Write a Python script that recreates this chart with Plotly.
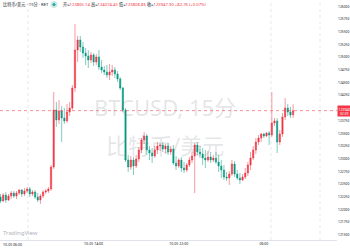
import pandas as pd
import plotly.graph_objects as go

# ---------------- data ----------------
start_time = "2025-10-05 05:15"
bar_minutes = 15

opens = [122248, 122169, 122287, 122188, 122267, 122326, 122267, 122326, 122385, 122307,
         122366, 122405, 122307, 122346, 122248, 122188, 122267, 122346, 122366, 122405,
         122838, 123961, 123764, 123941, 123803, 123744, 123921, 124000, 124394, 125142,
         125339, 125201, 125083, 125024, 124945, 125044, 124906, 125004, 124807, 124748,
         124709, 124650, 124709, 124748, 124669, 124571, 124394, 123961, 122976, 122838,
         122976, 122858, 122996, 123173, 123370, 123449, 123173, 123114, 123055, 123173,
         123252, 123271, 123193, 123252, 123134, 123193, 122917, 122858, 122976, 122819,
         122779, 122878, 122976, 123055, 123271, 123134, 123094, 123015, 122976, 123035,
         122976, 123015, 122937, 122858, 122779, 122641, 122622, 122700, 122897, 122700,
         122622, 122582, 122641, 122720, 122878, 123015, 123173, 123331, 123409, 123488,
         123449, 123508, 123468, 123705, 123744, 123331, 123488, 123823, 124000, 123921,
         123865.14]
highs = [122307, 122326, 122346, 122307, 122366, 122366, 122366, 122405, 122405, 122425,
         122444, 122444, 122385, 122385, 122326, 122307, 122385, 122405, 122444, 122878,
         124315, 124118, 124158, 124039, 124000, 124079, 124118, 124453, 125654, 125418,
         125418, 125300, 125181, 125142, 125103, 125083, 125063, 125142, 124945, 124827,
         124847, 124866, 124847, 124807, 124728, 124610, 124414, 124000, 123075, 123055,
         123035, 123075, 123232, 123409, 123527, 123488, 123252, 123212, 123252, 123331,
         123311, 123331, 123291, 123311, 123252, 123271, 123055, 123015, 123035, 122937,
         122917, 123035, 123134, 123311, 123331, 123252, 123212, 123173, 123153, 123134,
         123075, 123134, 123075, 122976, 122878, 122740, 122760, 122976, 122956, 122779,
         122720, 122700, 122819, 122937, 123134, 123252, 123409, 123468, 123508, 123508,
         123527, 123547, 124315, 123803, 123803, 123567, 123902, 124197, 124079, 124020,
         124074.45]
lows = [122129, 122149, 122129, 122169, 122208, 122228, 122208, 122287, 122248, 122267,
        122326, 122248, 122267, 122208, 122149, 122110, 122228, 122307, 122326, 122366,
        122799, 123626, 123685, 123331, 123685, 123705, 123842, 123961, 124315, 124906,
        125103, 124984, 124847, 124787, 124886, 124827, 124847, 124748, 124689, 124650,
        124591, 124551, 124630, 124591, 124512, 124354, 123921, 122937, 122740, 122779,
        122681, 122819, 122937, 123114, 123291, 123075, 122976, 122917, 123015, 123094,
        123153, 123134, 123114, 123075, 123075, 122878, 122779, 122819, 122740, 122720,
        122740, 122838, 122917, 122326, 123075, 123015, 122878, 122819, 122937, 122917,
        122937, 122897, 122740, 122622, 122582, 122563, 122484, 122661, 122641, 122582,
        122503, 122563, 122602, 122661, 122779, 122976, 123094, 123271, 123331, 123409,
        123429, 123271, 123429, 123646, 123114, 123271, 123429, 123764, 123842, 123803,
        123808.86]
closes = [122169, 122287, 122188, 122267, 122326, 122267, 122326, 122385, 122307, 122366,
          122405, 122307, 122346, 122248, 122188, 122267, 122346, 122366, 122405, 122838,
          123961, 123764, 123941, 123803, 123744, 123921, 124000, 124394, 125142, 125339,
          125201, 125083, 125024, 124945, 125044, 124906, 125004, 124807, 124748, 124709,
          124650, 124709, 124748, 124669, 124571, 124394, 123961, 122976, 122838, 122976,
          122858, 122996, 123173, 123370, 123449, 123173, 123114, 123055, 123173, 123252,
          123271, 123193, 123252, 123134, 123193, 122917, 122858, 122976, 122819, 122779,
          122878, 122976, 123055, 123271, 123134, 123094, 123015, 122976, 123035, 122976,
          123015, 122937, 122858, 122779, 122641, 122622, 122700, 122897, 122700, 122622,
          122582, 122641, 122720, 122878, 123015, 123173, 123331, 123409, 123488, 123449,
          123508, 123468, 123705, 123744, 123331, 123488, 123823, 124000, 123921, 123862,
          123947.90]

price_ticks = [121500, 121750, 122000, 122250, 122500, 122750, 123000, 123250, 123500,
               123750, 124000, 124250, 124500, 124750, 125000, 125250, 125500, 125750, 126000]
price_tick_labels = [str(v) for v in price_ticks]

time_tick_times = ["2025-10-05 14:00", "2025-10-05 22:00", "2025-10-06 06:00"]
time_tick_labels = ["10-05 14:00", "10-05 22:00", "06:00"]
first_time_label = "10-05 06:00"

title_text = "比特币/美元 · 15分 · RET"
watermark_1 = "BTCUSD, 15分"
watermark_2 = "比特币/美元"
change_text = "+82.76 (+0.07%)"

# ---------------- figure ----------------
UP = "#f23645"
DOWN = "#089981"
times = pd.date_range(start_time, periods=len(opens), freq=f"{bar_minutes}min")
step = pd.Timedelta(minutes=bar_minutes)

fig = go.Figure()
fig.add_trace(go.Candlestick(
    x=times, open=opens, high=highs, low=lows, close=closes,
    increasing=dict(fillcolor=UP, line=dict(color="rgba(242,54,69,0.5)", width=1)),
    decreasing=dict(fillcolor=DOWN, line=dict(color="rgba(8,153,129,0.5)", width=1)),
    whiskerwidth=0, showlegend=False, hoverinfo="skip",
))

W, H = 350, 250
ML, MR, MT, MB = 0, 13, 0, 10
PW = W - ML - MR
PH = H - MT - MB

x0 = times[0] - 0.19 * step
x1 = times[0] + (PW / 2.66 - 0.19) * step

last_close = closes[-1]

shapes = []
for px in [28, 271, 320]:
    shapes.append(dict(type="line", xref="paper", yref="paper", x0=px / PW, x1=px / PW,
                       y0=0, y1=1, line=dict(color="#e6e8ee", width=1, dash="dot"), layer="below"))
shapes.append(dict(type="line", xref="paper", yref="y", x0=0, x1=1, y0=last_close, y1=last_close,
                   line=dict(color="rgba(242,54,69,0.55)", width=1, dash="dot")))
# legend status icon
shapes.append(dict(type="circle", xref="paper", yref="paper",
                   x0=50.5 / PW, x1=57.5 / PW, y0=1 - 8 / PH, y1=1 - 1 / PH,
                   fillcolor="rgba(38,166,154,0.25)", line=dict(width=0)))
shapes.append(dict(type="circle", xref="paper", yref="paper",
                   x0=52.5 / PW, x1=55.5 / PW, y0=1 - 6 / PH, y1=1 - 3 / PH,
                   fillcolor="#26a69a", line=dict(width=0)))

F = "Noto Sans, Noto Sans CJK SC, sans-serif"
lab = lambda s: f'<span style="color:#131722">{s}</span>'
ohlc_text = (f'{lab("开=")}{opens[-1]:.2f} {lab("高=")}{highs[-1]:.2f} '
             f'{lab("低=")}{lows[-1]:.2f} {lab("收=")}{closes[-1]:.2f} {change_text}')

annotations = [
    dict(xref="paper", yref="paper", x=1 / PW, y=1 - 4.5 / PH, xanchor="left", yanchor="middle",
         text=title_text, showarrow=False, font=dict(family=F, size=4.2, color="#131722")),
    dict(xref="paper", yref="paper", x=61 / PW, y=1 - 4.5 / PH, xanchor="left", yanchor="middle",
         text=ohlc_text, showarrow=False, font=dict(family=F, size=4.2, color=UP)),
    dict(xref="paper", yref="paper", x=165 / PW, y=1 - 107 / PH, xanchor="center", yanchor="middle",
         text=watermark_1, showarrow=False, font=dict(family=F, size=22, color="rgba(120,123,134,0.2)")),
    dict(xref="paper", yref="paper", x=165 / PW, y=1 - 145 / PH, xanchor="center", yanchor="middle",
         text=watermark_2, showarrow=False, font=dict(family=F, size=22, color="rgba(120,123,134,0.2)")),
    dict(xref="paper", yref="paper", x=0.5 / PW, y=1 - 233 / PH, xanchor="left", yanchor="middle",
         text="TradingView", showarrow=False, font=dict(family=F, size=6, color="#b2b5be")),
    dict(xref="paper", yref="paper", x=0.5 / PW, y=-4.5 / PH, xanchor="left", yanchor="middle",
         text=first_time_label, showarrow=False, font=dict(family=F, size=3.5, color="#131722")),
    dict(xref="paper", yref="y", x=1, y=last_close, xanchor="left", yanchor="middle",
         text=f"{last_close:.0f}<br>02:39", showarrow=False, bgcolor=UP, borderpad=0.5,
         font=dict(family=F, size=3.3, color="white"), align="center"),
]

fig.update_layout(
    width=W, height=H,
    margin=dict(l=ML, r=MR, t=MT, b=MB),
    paper_bgcolor="white", plot_bgcolor="white",
    shapes=shapes, annotations=annotations,
    xaxis=dict(type="date", range=[x0, x1], rangeslider=dict(visible=False),
               showgrid=False, zeroline=False, showline=True, linecolor="#e0e3eb", linewidth=1,
               tickvals=pd.to_datetime(time_tick_times), ticktext=time_tick_labels,
               ticks="", tickfont=dict(family=F, size=3.5, color="#131722")),
    yaxis=dict(side="right", range=[121401, 126126], showgrid=False, zeroline=False,
               tickvals=price_ticks, ticktext=price_tick_labels, ticks="",
               tickfont=dict(family=F, size=3.3, color="#131722")),
    font=dict(family=F),
)

fig.write_html("out.html", config={"displayModeBar": False})
